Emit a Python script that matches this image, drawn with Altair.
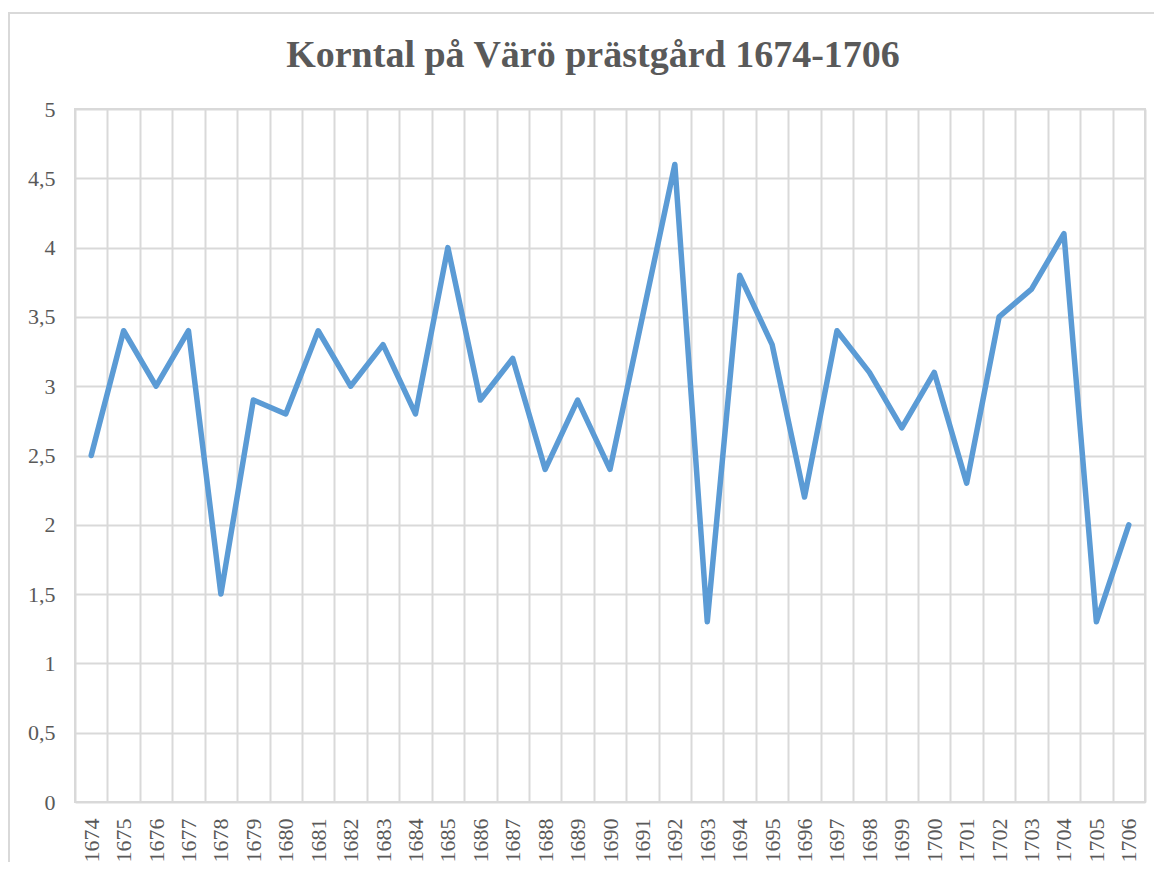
import altair as alt
import pandas as pd

years = ["1674", "1675", "1676", "1677", "1678", "1679", "1680", "1681", "1682",
         "1683", "1684", "1685", "1686", "1687", "1688", "1689", "1690", "1691",
         "1692", "1693", "1694", "1695", "1696", "1697", "1698", "1699", "1700",
         "1701", "1702", "1703", "1704", "1705", "1706"]
values = [2.5, 3.4, 3.0, 3.4, 1.5, 2.9, 2.8, 3.4, 3.0, 3.3, 2.8, 4.0, 2.9, 3.2,
          2.4, 2.9, 2.4, 3.5, 4.6, 1.3, 3.8, 3.3, 2.2, 3.4, 3.1, 2.7, 3.1, 2.3,
          3.5, 3.7, 4.1, 1.3, 2.0]
y_ticks = [0, 0.5, 1, 1.5, 2, 2.5, 3, 3.5, 4, 4.5, 5]

df = pd.DataFrame({"year": years, "value": values})

GREY = "#595959"
GRID = "#d9d9d9"
FONT = "Liberation Serif"

line = alt.Chart(df).mark_line(
    color="#5b9bd5", strokeWidth=5.5, strokeJoin="round", strokeCap="round"
).encode(
    x=alt.X("year:O", sort=years,
            scale=alt.Scale(type="band", paddingInner=0, paddingOuter=0),
            axis=alt.Axis(title=None, tickBand="extent", grid=True, gridColor=GRID,
                          gridWidth=2, ticks=False, domain=False, labelAngle=-90,
                          labelPadding=16, labelFont=FONT, labelFontSize=22,
                          labelColor=GREY)),
    y=alt.Y("value:Q", scale=alt.Scale(domain=[0, 5], nice=False),
            axis=alt.Axis(title=None, values=y_ticks, grid=True, gridColor=GRID,
                          gridWidth=2, ticks=False, domain=False, labelPadding=20,
                          labelFont=FONT, labelFontSize=22, labelColor=GREY,
                          labelExpr="replace(toString(datum.value), '.', ',')")),
)

border = alt.Chart(alt.Data(values=[{}])).mark_rect(
    filled=False, stroke=GRID, strokeWidth=2
).encode(
    x=alt.value(-66), x2=alt.value(1100), y=alt.value(-96), y2=alt.value(800)
)

chart = alt.layer(border, line).properties(
    width=1070, height=693,
    autosize=alt.AutoSizeParams(type="none"),
    padding={"left": 67, "top": 101, "right": 9, "bottom": 60},
    title=alt.Title("Korntal på Värö prästgård 1674-1706", font=FONT, fontSize=38,
                    fontWeight="bold", color=GREY, anchor="middle", dx=-17, offset=0,
                    dy=63),
).configure_view(stroke=GRID, strokeWidth=2)

chart.save("out.html", embed_options={"renderer": "svg", "actions": False})
